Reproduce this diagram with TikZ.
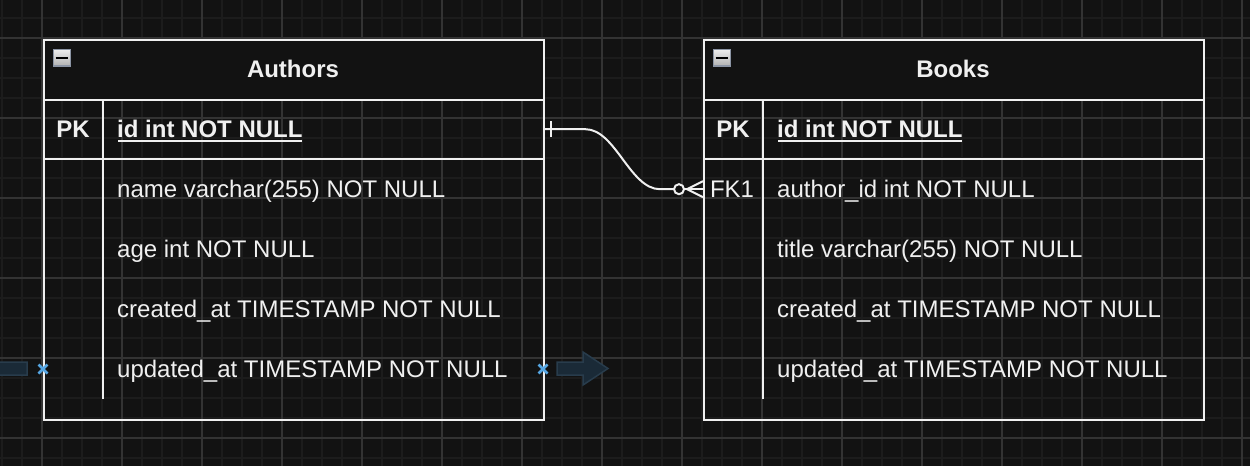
\documentclass[tikz,border=0pt]{standalone}
\usepackage{fontspec}
\setmainfont{Liberation Sans}
\usetikzlibrary{calc}

\definecolor{canvas}{HTML}{121212}
\definecolor{gridminor}{HTML}{1C1C1C}
\definecolor{gridmajor}{HTML}{333333}
\definecolor{ink}{HTML}{F0F0F0}
\definecolor{hoverfill}{HTML}{1A2A37}
\definecolor{hoverline}{HTML}{283C4C}
\definecolor{handle}{HTML}{55A6E3}
\definecolor{iconrim}{HTML}{8C95A5}

\begin{document}
\begin{tikzpicture}[x=1pt,y=-1pt,
  tablebox/.style={draw=ink, line width=2pt, minimum width=500pt, minimum height=380pt,
                   inner sep=0pt, anchor=north west},
  headbox/.style={draw=ink, fill=canvas, line width=2pt, minimum width=500pt,
                  minimum height=60pt, inner sep=0pt, anchor=north west},
  rowbox/.style={minimum width=500pt, minimum height=60pt, inner sep=0pt, anchor=north west},
  rule/.style={draw=ink, line width=2pt},
  title/.style={anchor=base, inner sep=0pt, text=ink, font=\bfseries\fontsize{24}{28}\selectfont},
  field/.style={anchor=base west, inner sep=0pt, text=ink, font=\fontsize{24}{28}\selectfont},
  keyfield/.style={field, font=\bfseries\fontsize{24}{28}\selectfont},
  keytag/.style={anchor=base, inner sep=0pt, text=ink, font=\bfseries\fontsize{24}{28}\selectfont},
  fktag/.style={anchor=base, inner sep=0pt, text=ink, font=\fontsize{24}{28}\selectfont},
  collapse/.style={draw=iconrim, line width=1.6pt, top color=white!93!black,
                   bottom color=white!70!black, minimum width=17pt, minimum height=16.5pt,
                   inner sep=0pt, anchor=north west},
  hoverarrow/.style={fill=hoverfill, draw=hoverline, line width=1.5pt},
  handlemark/.style={draw=handle, line width=2.6pt},
  link/.style={draw=ink, line width=2pt}
]
\path[use as bounding box] (0,0) rectangle (1250,466);
\clip (0,0) rectangle (1250,466);

% canvas and grid
\fill[canvas] (0,0) rectangle (1250,466);
\foreach \gx in {2,22,...,1250} \draw[gridminor, line width=1.6pt] (\gx,0) -- (\gx,466);
\foreach \gy in {18,38,...,466} \draw[gridminor, line width=1.6pt] (0,\gy) -- (1250,\gy);
\foreach \gx in {42,122,...,1250} \draw[gridmajor, line width=1.1pt] (\gx,0) -- (\gx,466);
\foreach \gy in {38,118,...,466} \draw[gridmajor, line width=1.1pt] (0,\gy) -- (1250,\gy);

% ---------------- Authors ----------------
\node[tablebox] (atbl) at (43,39) {};
\node[headbox] (ahead) at (43,39) {};
\node[collapse] (aicon) at (52.5,48.5) {};
\draw[black, line width=2pt] ($(aicon.west)+(3,0)$) -- ($(aicon.east)+(-3,0)$);
\node[title] (atitle) at (293,77.6) {Authors};
\node[rowbox] (aid) at (43,99) {};
\draw[rule] (aid.south west) -- (aid.south east);
\draw[rule] ($(atbl.north west)+(60,60)$) -- ($(atbl.north west)+(60,360)$);
\node[keytag] (apk) at (73,137.6) {PK};
\node[keyfield] (aidtxt) at (117,137.6) {id int NOT NULL};
\draw[ink, line width=2pt] ($(aidtxt.base west)+(1,3.4)$) -- ($(aidtxt.base east)+(-0.5,3.4)$);
\node[field] (aname) at (117,197.6) {name varchar(255) NOT NULL};
\node[field] (aage) at (117,257.6) {age int NOT NULL};
\node[field] (acreated) at (117,317.6) {created\_at TIMESTAMP NOT NULL};
\node[field] (aupdated) at (117,377.6) {updated\_at TIMESTAMP NOT NULL};

% ---------------- Books ----------------
\node[tablebox] (btbl) at (703,39) {};
\node[headbox] (bhead) at (703,39) {};
\node[collapse] (bicon) at (712.5,48.5) {};
\draw[black, line width=2pt] ($(bicon.west)+(3,0)$) -- ($(bicon.east)+(-3,0)$);
\node[title] (btitle) at (953,77.6) {Books};
\node[rowbox] (bid) at (703,99) {};
\node[rowbox] (bfk) at (703,159) {};
\draw[rule] (bid.south west) -- (bid.south east);
\draw[rule] ($(btbl.north west)+(60,60)$) -- ($(btbl.north west)+(60,360)$);
\node[keytag] (bpk) at (733,137.6) {PK};
\node[keyfield] (bidtxt) at (777,137.6) {id int NOT NULL};
\draw[ink, line width=2pt] ($(bidtxt.base west)+(1,3.4)$) -- ($(bidtxt.base east)+(-0.5,3.4)$);
\node[fktag] (bfktag) at (732,197.6) {FK1};
\node[field] (bauthor) at (777,197.6) {author\_id int NOT NULL};
\node[field] (btitlef) at (777,257.6) {title varchar(255) NOT NULL};
\node[field] (bcreated) at (777,317.6) {created\_at TIMESTAMP NOT NULL};
\node[field] (bupdated) at (777,377.6) {updated\_at TIMESTAMP NOT NULL};

% ---------------- relationship: one Author to many Books ----------------
\draw[link] (aid.east) -- ($(aid.east)+(42,0)$)
  .. controls ($(aid.east)+(72,0)$) and ($(bfk.west)+(-73,0)$) .. ($(bfk.west)+(-43,0)$)
  -- ($(bfk.west)+(-29,0)$);
\draw[link] ($(aid.east)+(8,-8)$) -- ($(aid.east)+(8,8)$);
\draw[link, fill=canvas] ($(bfk.west)+(-24,0)$) circle[radius=5];
\draw[link] ($(bfk.west)+(0,-8)$) -- ($(bfk.west)+(-16,0)$) -- ($(bfk.west)+(0,8)$);
\draw[link] ($(bfk.west)+(-19,0)$) -- (bfk.west);

% ---------------- hover handles on the Authors table ----------------
\coordinate (lefthandle) at (43,369);
\coordinate (righthandle) at (543,369);
\draw[hoverarrow] ($(lefthandle)+(-16,-7)$) -- ($(lefthandle)+(-44,-7)$) -- ($(lefthandle)+(-44,-17)$)
  -- ($(lefthandle)+(-69,0)$) -- ($(lefthandle)+(-44,17)$) -- ($(lefthandle)+(-44,6)$)
  -- ($(lefthandle)+(-16,6)$) -- cycle;
\draw[hoverarrow] ($(righthandle)+(14,-7)$) -- ($(righthandle)+(40,-7)$) -- ($(righthandle)+(40,-17)$)
  -- ($(righthandle)+(65,-0.5)$) -- ($(righthandle)+(40,16)$) -- ($(righthandle)+(40,6)$)
  -- ($(righthandle)+(14,6)$) -- cycle;
\foreach \h in {lefthandle,righthandle} {
  \draw[handlemark] ($(\h)+(-4.5,-4.5)$) -- ($(\h)+(4.5,4.5)$);
  \draw[handlemark] ($(\h)+(-4.5,4.5)$) -- ($(\h)+(4.5,-4.5)$);
}
\end{tikzpicture}
\end{document}
